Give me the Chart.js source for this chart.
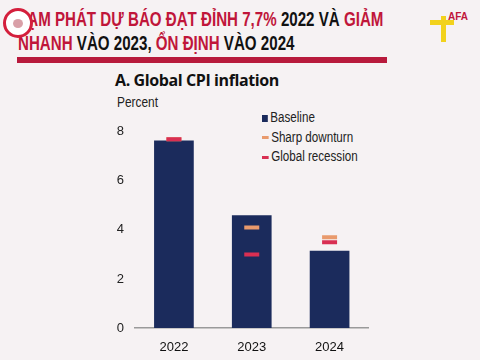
<!DOCTYPE html>
<html>
<head>
<meta charset="utf-8">
<script src="https://cdn.jsdelivr.net/npm/chart.js@4.4.0/dist/chart.umd.min.js"></script>
<style>
  html, body { margin: 0; padding: 0; }
  body { width: 480px; height: 360px; background: #f6f2f3; position: relative; overflow: hidden; font-family: "Liberation Sans", Arial, sans-serif; }
  .head { position: absolute; left: 18px; font-weight: bold; font-size: 21px; line-height: 25px; color: #111; white-space: nowrap; transform: scaleX(0.72); transform-origin: 0 0; }
  .head .r { color: #c0163a; }
  .h1 { top: 6px; }
  .h2 { top: 30px; }
  .rule { position: absolute; left: 17px; top: 57px; width: 370px; height: 6px; background: #b81a3c; }
  .logoL { position: absolute; left: 3px; top: 8px; width: 24px; height: 24px; border-radius: 50%; border: 3px solid #d41f3c; background: #fff; z-index: 2; }
  .logoL:after { content: ""; position: absolute; left: 7px; top: 8px; width: 10px; height: 9px; border-radius: 50%; background: #d9a0a8; }
  .logoR { position: absolute; left: 428px; top: 6px; width: 50px; height: 40px; }
  .logoR .y1 { position: absolute; left: 13px; top: 10px; width: 5px; height: 26px; background: #f2d21c; }
  .logoR .y2 { position: absolute; left: 2px; top: 14px; width: 24px; height: 5px; background: #f2d21c; }
  .logoR .t { position: absolute; left: 20px; top: 5px; font: bold 10px "Liberation Sans", sans-serif; color: #c0163a; }
  .ctitle { position: absolute; left: 115px; top: 69px; font: bold 16px "Open Sans", sans-serif; color: #111; letter-spacing: -0.4px; }
  .unit { position: absolute; left: 117px; top: 94px; font-size: 14px; color: #222; transform: scaleX(0.85); transform-origin: 0 0; }
  #legend { position: absolute; left: 262px; top: 108px; font-size: 14px; color: #222; transform: scaleX(0.83); transform-origin: 0 0; }
  #legend div { height: 19.5px; line-height: 19.5px; white-space: nowrap; }
  #legend span.k { display: inline-block; vertical-align: middle; margin-right: 3px; }
  #wrap { position: absolute; left: 100px; top: 113px; width: 280px; height: 247px; }
</style>
</head>
<body>
<div class="logoL"></div>
<div class="head h1"><span class="r">LẠM PHÁT DỰ BÁO ĐẠT ĐỈNH 7,7%</span> 2022 VÀ <span class="r">GIẢM</span></div>
<div class="head h2"><span class="r">NHANH</span> VÀO 2023, <span class="r">ỔN ĐỊNH</span> VÀO 2024</div>
<div class="rule"></div>
<div class="logoR"><div class="y1"></div><div class="y2"></div><div class="t">AFA</div></div>
<div class="ctitle">A. Global CPI inflation</div>
<div class="unit">Percent</div>
<div id="legend"></div>
<div id="wrap"><canvas id="c"></canvas></div>
<script>
const years = ['2022', '2023', '2024'];
const baseline = [7.65, 4.6, 3.15];
const sharpDownturn = [7.7, 4.1, 3.7];
const globalRecession = [7.7, 3.0, 3.5];
const yTicks = [0, 2, 4, 6, 8];

const navy = '#1b2b5c';
const orange = '#e99a6c';
const red = '#d92f52';

const datasets = [
  { type: 'bar', label: 'Baseline', data: baseline, backgroundColor: navy, order: 3,
    categoryPercentage: 1, barPercentage: 0.51 },
  { type: 'line', label: 'Sharp downturn', data: sharpDownturn, showLine: false,
    pointStyle: 'line', pointRadius: 7.5, pointBorderWidth: 4, borderColor: orange, backgroundColor: orange, order: 2 },
  { type: 'line', label: 'Global recession', data: globalRecession, showLine: false,
    pointStyle: 'line', pointRadius: 7.5, pointBorderWidth: 4, borderColor: red, backgroundColor: red, order: 1 }
];

// legend
const lg = document.getElementById('legend');
datasets.forEach(d => {
  const row = document.createElement('div');
  const k = document.createElement('span');
  k.className = 'k';
  if (d.type === 'bar') { k.style.width = '7px'; k.style.height = '7px'; k.style.background = d.backgroundColor; }
  else { k.style.width = '8px'; k.style.height = '3px'; k.style.background = d.borderColor; }
  row.appendChild(k);
  row.appendChild(document.createTextNode(d.label));
  lg.appendChild(row);
});

new Chart(document.getElementById('c'), {
  data: { labels: years, datasets },
  options: {
    responsive: true,
    maintainAspectRatio: false,
    animation: false,
    layout: { padding: { top: 0, right: 7, left: 0, bottom: 0 } },
    plugins: { legend: { display: false }, tooltip: { enabled: false } },
    scales: {
      x: {
        grid: { display: false, drawTicks: false },
        border: { display: true, color: '#9a9a9a', width: 1.5 },
        ticks: { color: '#111', padding: 12, font: { family: 'Liberation Sans', size: 13 } },
        afterFit: s => { s.height = 32; }
      },
      y: {
        min: 0, max: 8,
        afterBuildTicks: s => { s.ticks = yTicks.map(v => ({ value: v })); },
        grid: { display: false, drawTicks: false },
        border: { display: false },
        ticks: { color: '#222', padding: 11, font: { family: 'Liberation Sans', size: 13 } },
        afterFit: s => { s.width = 35; }
      }
    }
  }
});
</script>
</body>
</html>
